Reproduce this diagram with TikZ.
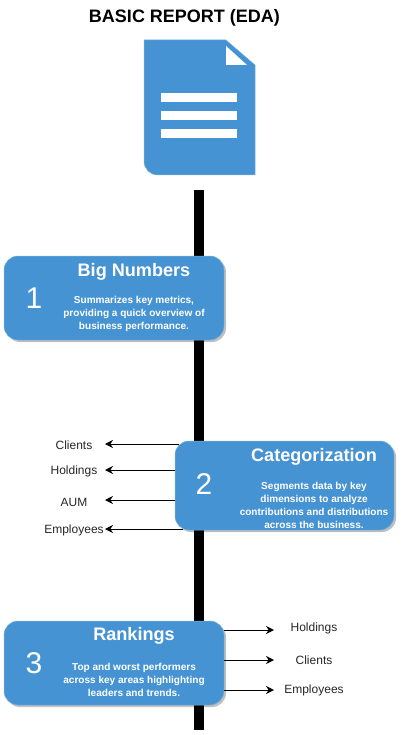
\documentclass[tikz,border=0pt]{standalone}
\usepackage{fontspec}
\setmainfont{Liberation Sans}
\usetikzlibrary{shadows,arrows.meta}
\definecolor{boxblue}{HTML}{4593D2}
\tikzset{
  x=1pt,y=-1pt,
  card/.style={draw=boxblue!70!white,line width=0.5pt,fill=boxblue,rounded corners=14pt,inner sep=0pt,
    drop shadow={shadow xshift=2pt,shadow yshift=-2pt,opacity=0.25,fill=black}},
  cardtitle/.style={text=white,font=\fontsize{18.1}{21}\selectfont\bfseries,inner sep=0pt},
  carddesc/.style={text=white,font=\fontsize{10.05}{13}\selectfont\bfseries,align=center,inner sep=0pt},
  cardnum/.style={text=white,font=\fontsize{30}{33}\selectfont,inner sep=0pt},
  lab/.style={text=black!85,font=\fontsize{12}{14}\selectfont,inner sep=0pt},
  conn/.style={draw=black,line width=1pt,-{Stealth[length=8pt,width=8pt]}},
  spine/.style={fill=black,draw=none},
  docshape/.style={fill=boxblue,draw=boxblue!70!white,line width=0.5pt},
  docwhite/.style={fill=white,draw=none}
}
\begin{document}
\begin{tikzpicture}
\useasboundingbox (0,0) rectangle (400,735);
\node[font=\fontsize{18}{21}\selectfont\bfseries,inner sep=0pt] (title) at (184.5,18) {BASIC REPORT (EDA)};
% document icon
\draw[docshape] (144,40) -- (226,40) -- (255,65) -- (255,175) -- (158,175) .. controls (150,175) and (144,169) .. (144,161) -- cycle;
\fill[docwhite] (226,46) -- (247,65) -- (226,65) -- cycle;
\fill[docwhite] (161,93) rectangle (237,102);
\fill[docwhite] (161,111) rectangle (237,120);
\fill[docwhite] (161,129) rectangle (237,138);
% spine
\node[spine,minimum width=10pt,minimum height=540pt,inner sep=0pt] (spine) at (199,460) {};
% label nodes and tips
\node[lab] (c1) at (74,445) {Clients};
\node[lab] (c2) at (74,471) {Holdings};
\node[lab] (c3) at (74,502.5) {AUM};
\node[lab] (c4) at (74,530) {Employees};
\coordinate (t1) at (105,444);
\coordinate (t2) at (105,470);
\coordinate (t3) at (105,500);
\coordinate (t4) at (105,529);
\node[lab] (r1) at (314,628.5) {Holdings};
\node[lab] (r2) at (314,660.5) {Clients};
\node[lab] (r3) at (314,690.5) {Employees};
\coordinate (u1) at (274,630);
\coordinate (u2) at (274,660);
\coordinate (u3) at (274,690);
% boxes
\node[card,minimum width=220pt,minimum height=84pt] (b1) at (114,298) {};
\node[card,minimum width=219pt,minimum height=89pt] (b2) at (284.5,485.5) {};
\node[card,minimum width=220pt,minimum height=84pt] (b3) at (114,663) {};
% connectors
\draw[conn] (b2.west |- t1) ++(4,0) -- (t1);
\draw[conn] (b2.west |- t2) -- (t2);
\draw[conn] (b2.west |- t3) -- (t3);
\draw[conn] (b2.west |- t4) ++(8,0) -- (t4);
\draw[conn] (b3.east |- u1) -- (u1);
\draw[conn] (b3.east |- u2) -- (u2);
\draw[conn] (b3.east |- u3) -- (u3);
% box contents
\node[cardnum] (n1) at (34,298) {1};
\node[cardtitle] (h1) at (134,271.5) {Big Numbers};
\node[carddesc] (d1) at (134,314) {Summarizes key metrics,\\providing a quick overview of\\business performance.};
\node[cardnum] (n2) at (204,484) {2};
\node[cardtitle] (h2) at (314,456.5) {Categorization};
\node[carddesc] (d2) at (314,505.5) {Segments data by key\\dimensions to analyze\\contributions and distributions\\across the business.};
\node[cardnum] (n3) at (34,663) {3};
\node[cardtitle] (h3) at (134,636) {Rankings};
\node[carddesc] (d3) at (134,679.5) {Top and worst performers\\across key areas highlighting\\leaders and trends.};
\end{tikzpicture}
\end{document}
